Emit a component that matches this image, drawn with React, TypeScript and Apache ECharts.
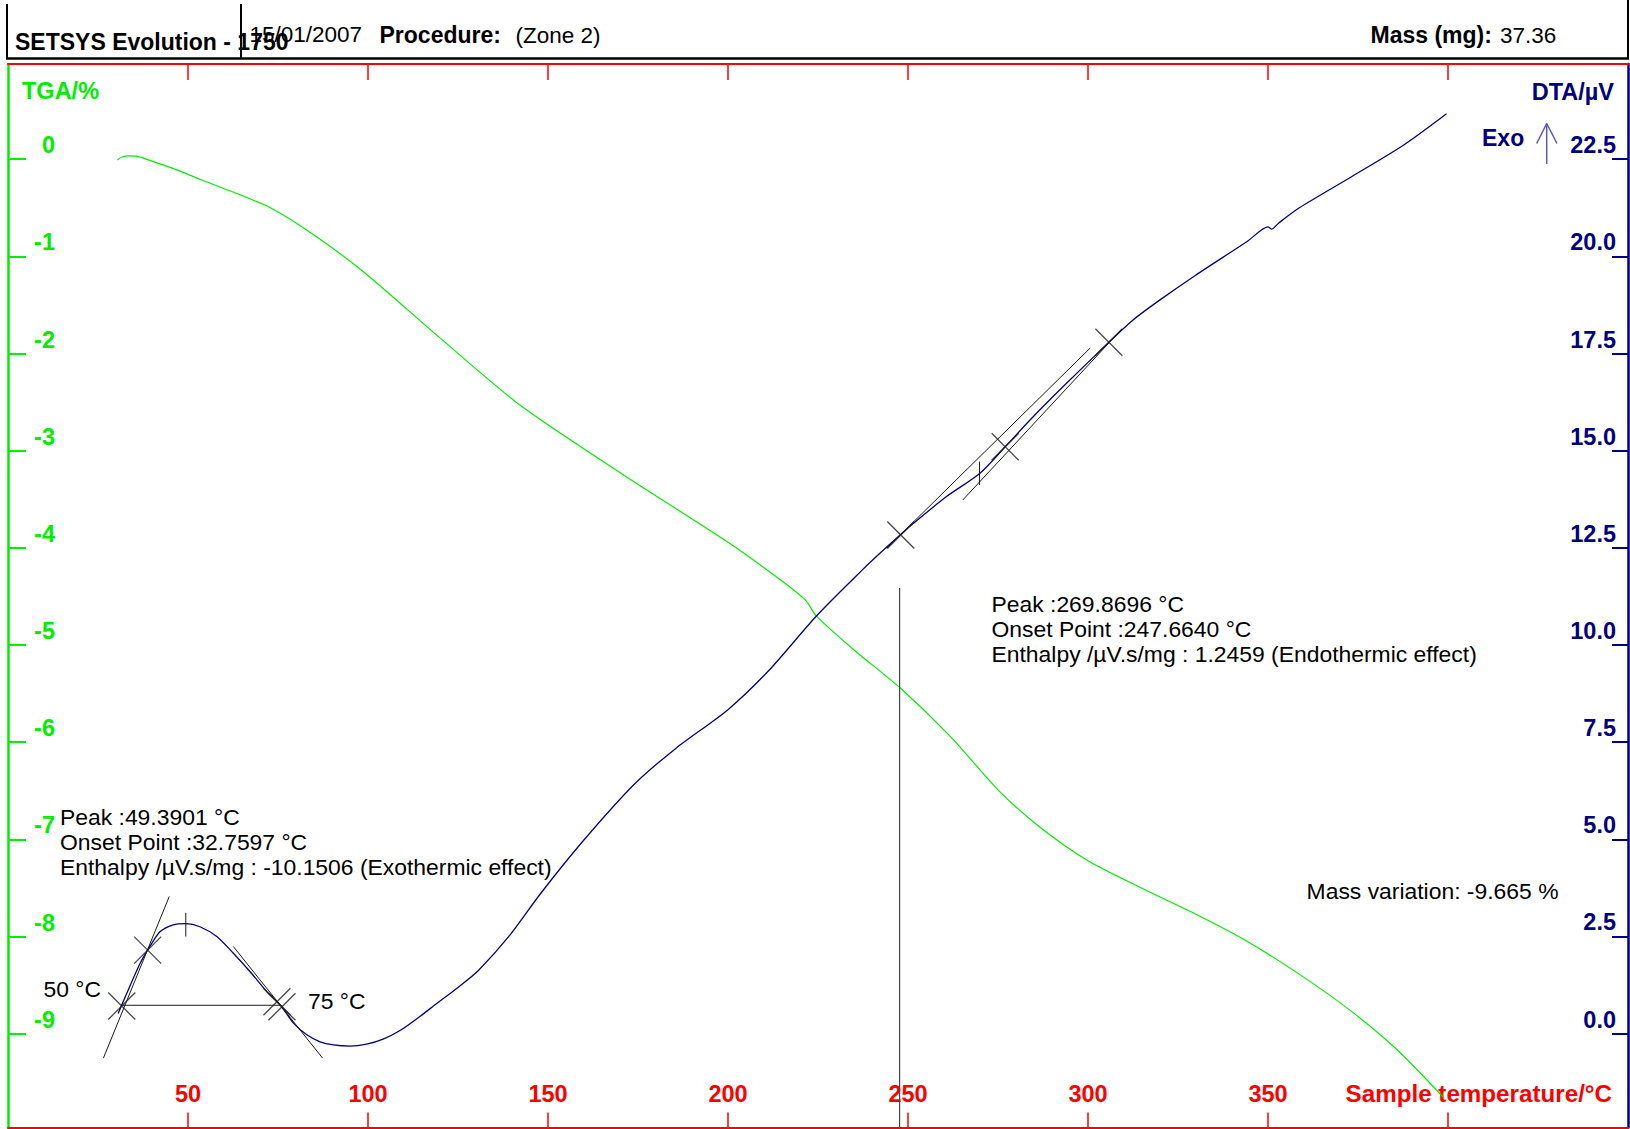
import React, { useEffect, useRef } from "react";
import * as echarts from "echarts";

const FONT = "'Liberation Sans', Arial, Helvetica, sans-serif";
const GREEN = "#00ee00";
const RED = "#ff0000";
const NAVY = "#000080";
const INK = "#1a1a1a";

// TGA: sample temperature (°C) and mass change (%)
const tgaTemp = [30.4, 31.5, 33.4, 36.0, 40.0, 46.9, 53.3, 62.0, 72.9, 85.0, 98.8, 119.1, 142.2, 171.0, 199.9, 215.0, 221.6, 224.5, 235.0, 247.8, 262.0, 275.0, 286.5, 300.0, 315.4, 330.0, 344.3, 360.0, 373.2, 386.0, 399.0];
const tgaMass = [-0.007, 0.02, 0.034, 0.03, -0.02, -0.11, -0.206, -0.33, -0.5, -0.78, -1.16, -1.81, -2.53, -3.25, -3.94, -4.34, -4.54, -4.7, -5.05, -5.44, -5.95, -6.49, -6.87, -7.22, -7.51, -7.77, -8.05, -8.42, -8.77, -9.17, -9.665];

// DTA: sample temperature (°C) and signal (µV)
const dtaTemp = [30.6, 33.0, 36.7, 38.8, 42.2, 45.9, 49.4, 53.3, 58.0, 62.6, 67.2, 71.9, 75.6, 79.3, 83.0, 86.7, 90.4, 95.0, 99.6, 104.2, 108.9, 114.4, 119.0, 125.0, 130.6, 139.3, 147.9, 159.5, 173.9, 185.5, 199.9, 211.4, 224.5, 237.4, 242.2, 247.8, 251.5, 260.7, 270.0, 277.0, 283.9, 293.1, 305.8, 312.6, 320.0, 329.8, 344.3, 350.0, 351.0, 353.0, 358.7, 373.2, 387.6, 399.6];
const dtaSignal = [0.52, 1.04, 1.81, 2.15, 2.62, 2.8, 2.83, 2.75, 2.5, 2.07, 1.6, 1.08, 0.74, 0.27, -0.03, -0.21, -0.29, -0.32, -0.27, -0.14, 0.08, 0.44, 0.77, 1.19, 1.62, 2.52, 3.6, 4.93, 6.41, 7.34, 8.33, 9.35, 10.74, 11.94, 12.36, 12.83, 13.13, 13.82, 14.42, 15.1, 15.79, 16.65, 17.79, 18.37, 18.88, 19.51, 20.39, 20.76, 20.7, 20.86, 21.25, 22.05, 22.86, 23.67];

// Axis ranges and ticks
const tempRange = [0, 450];
const tgaRange = [-9.965, 0.98];
const dtaRange = [-2.415, 24.95];
const tempTicks = [50, 100, 150, 200, 250, 300, 350, 400];
const tempLabels = [50, 100, 150, 200, 250, 300, 350];
const tgaTicks = [0, -1, -2, -3, -4, -5, -6, -7, -8, -9];
const dtaTicks = [0, 2.5, 5, 7.5, 10, 12.5, 15, 17.5, 20, 22.5];

// Peak analysis: construction segments in (°C, µV)
const exoTangentRise = [[26.5, -0.63], [44.8, 3.53]];
const exoTangentFall = [[62.6, 2.24], [87.4, -0.63]];
const exoBaseline = [[31.6, 0.73], [75.6, 0.73]];
const exoPeakMark = [[49.39, 3.11], [49.39, 2.5]];
const endoTangentA = [[244.1, 12.49], [300.6, 17.64]];
const endoTangentB = [[265.2, 13.73], [309.4, 18.13]];
const endoPeakMark = [[269.87, 14.72], [269.87, 14.12]];
const onsetMarker = [[247.664, 11.47], [247.664, dtaRange[0]]];
const analysisCrosses = [
  [31.6, 0.71], [38.8, 2.15], [74.7, 0.82], [76.1, 0.69],
  [248.0, 12.83], [277.0, 15.1], [305.8, 17.79],
];

const exoText = [
  "Peak :49.3901 °C",
  "Onset Point :32.7597 °C",
  "Enthalpy /µV.s/mg : -10.1506 (Exothermic effect)",
];
const endoText = [
  "Peak :269.8696 °C",
  "Onset Point :247.6640 °C",
  "Enthalpy /µV.s/mg : 1.2459 (Endothermic effect)",
];

const zip = (a: number[], b: number[]) => a.map((v, i) => [v, b[i]]);

function txt(text: string, x: number, y: number, font: string, fill: string, align = "left") {
  return {
    type: "text",
    x,
    y,
    silent: true,
    style: {
      text,
      fill,
      font,
      textAlign: align,
      align,
      textVerticalAlign: "middle",
      verticalAlign: "middle",
    },
  };
}

function seg(x1: number, y1: number, x2: number, y2: number, stroke: string, lineWidth: number) {
  return { type: "line", silent: true, shape: { x1, y1, x2, y2 }, style: { stroke, lineWidth } };
}

export default function App() {
  const ref = useRef<HTMLDivElement>(null);

  useEffect(() => {
    if (!ref.current) return;
    const chart = echarts.init(ref.current, undefined, { renderer: "svg" });

    const bold = (s: number) => `bold ${s}px ${FONT}`;
    const reg = (s: number) => `${s}px ${FONT}`;
    const NOTE = 22.9;

    const construction = [
      exoTangentRise, exoTangentFall, exoBaseline, exoPeakMark,
      endoTangentA, endoTangentB, endoPeakMark,
    ].map((d) => ({
      type: "line",
      yAxisIndex: 1,
      data: d,
      symbol: "none",
      silent: true,
      z: 4,
      lineStyle: { color: INK, width: 1 },
    }));

    const graphic: any[] = [
      // header frame
      seg(7, 4, 7, 59, "#000", 2),
      seg(241, 4, 241, 59, "#000", 2),
      seg(1628, 0, 1628, 59, "#000", 2),
      seg(6, 58.5, 1629, 58.5, "#000", 2.5),
      txt("SETSYS Evolution - 1750", 15, 41.7, bold(23), "#000"),
      txt("15/01/2007", 249.5, 34.5, reg(22.5), "#000"),
      txt("Procedure:", 379.5, 35, bold(23), "#000"),
      txt("(Zone 2)", 515.5, 35, reg(22.5), "#000"),
      txt("Mass (mg):", 1370.5, 35, bold(23), "#000"),
      txt("37.36", 1500, 35, reg(22.5), "#000"),
      // axis titles
      txt("TGA/%", 22, 90.5, bold(23.5), GREEN),
      txt("DTA/µV", 1614, 92, bold(23.5), NAVY, "right"),
      txt("Exo", 1482, 138, bold(23), NAVY),
      seg(1546.7, 123.5, 1546.7, 164, "#5a5ab4", 1.5),
      seg(1536.7, 143.5, 1546.7, 123.5, "#5a5ab4", 1.5),
      seg(1557, 143.5, 1546.7, 123.5, "#5a5ab4", 1.5),
      txt("Sample temperature/°C", 1612, 1093.5, bold(24.2), RED, "right"),
      // annotations
      ...exoText.map((t, i) => txt(t, 60, 817 + i * 25, reg(NOTE), "#000")),
      ...endoText.map((t, i) => txt(t, 991.5, 603.8 + i * 25, reg(NOTE), "#000")),
      txt("50 °C", 43.5, 989, reg(NOTE), "#000"),
      txt("75 °C", 308, 1001, reg(NOTE), "#000"),
      txt("Mass variation: -9.665 %", 1558.5, 891, reg(NOTE), "#000", "right"),
    ];

    chart.setOption({
      animation: false,
      backgroundColor: "#ffffff",
      grid: { left: 8, right: 2, top: 64, bottom: 1.5, containLabel: false },
      xAxis: [
        {
          type: "value",
          position: "bottom",
          min: tempRange[0],
          max: tempRange[1],
          axisLine: { show: true, onZero: false, lineStyle: { color: RED, width: 2 } },
          axisTick: { show: true, inside: true, length: 15, customValues: tempTicks, lineStyle: { color: RED, width: 1.5 } },
          axisLabel: {
            show: true,
            inside: true,
            margin: 34,
            customValues: tempLabels,
            color: RED,
            fontWeight: "bold",
            fontSize: 23.5,
            fontFamily: FONT,
            verticalAlign: "middle",
          },
          splitLine: { show: false },
        },
        {
          type: "value",
          position: "top",
          min: tempRange[0],
          max: tempRange[1],
          axisLine: { show: true, onZero: false, lineStyle: { color: RED, width: 2 } },
          axisTick: { show: true, inside: true, length: 16, customValues: tempTicks, lineStyle: { color: RED, width: 1.5 } },
          axisLabel: { show: false },
          splitLine: { show: false },
        },
      ],
      yAxis: [
        {
          type: "value",
          position: "left",
          min: tgaRange[0],
          max: tgaRange[1],
          axisLine: { show: true, onZero: false, lineStyle: { color: GREEN, width: 2.5 } },
          axisTick: { show: true, inside: true, length: 18, customValues: tgaTicks, lineStyle: { color: GREEN, width: 2 } },
          axisLabel: {
            show: true,
            inside: true,
            margin: 47,
            align: "right",
            verticalAlign: "bottom",
            lineHeight: 28,
            customValues: tgaTicks,
            color: GREEN,
            fontWeight: "bold",
            fontSize: 23.5,
            fontFamily: FONT,
          },
          splitLine: { show: false },
        },
        {
          type: "value",
          position: "right",
          min: dtaRange[0],
          max: dtaRange[1],
          axisLine: { show: true, onZero: false, lineStyle: { color: NAVY, width: 2.5 } },
          axisTick: { show: true, inside: true, length: 16, customValues: dtaTicks, lineStyle: { color: NAVY, width: 2 } },
          axisLabel: {
            show: true,
            inside: true,
            margin: 12,
            align: "right",
            verticalAlign: "bottom",
            lineHeight: 28,
            customValues: dtaTicks,
            formatter: (v: number) => v.toFixed(1),
            color: NAVY,
            fontWeight: "bold",
            fontSize: 23.5,
            fontFamily: FONT,
          },
          splitLine: { show: false },
        },
      ],
      series: [
        {
          name: "TGA",
          type: "line",
          yAxisIndex: 0,
          data: zip(tgaTemp, tgaMass),
          symbol: "none",
          smooth: 0.25,
          silent: true,
          z: 3,
          lineStyle: { color: GREEN, width: 1.2 },
        },
        {
          name: "DTA",
          type: "line",
          yAxisIndex: 1,
          data: zip(dtaTemp, dtaSignal),
          symbol: "none",
          smooth: 0.25,
          silent: true,
          z: 3,
          lineStyle: { color: NAVY, width: 1.3 },
        },
        ...construction,
        {
          type: "line",
          yAxisIndex: 1,
          data: onsetMarker,
          symbol: "none",
          silent: true,
          z: 4,
          lineStyle: { color: "#444", width: 1.2 },
        },
        {
          type: "scatter",
          yAxisIndex: 1,
          data: analysisCrosses,
          symbol: "path://M0,0L10,10M10,0L0,10",
          symbolSize: 27,
          silent: true,
          z: 5,
          itemStyle: { color: "transparent", borderColor: INK, borderWidth: 1.3 },
        },
      ],
      graphic,
    });

    return () => chart.dispose();
  }, []);

  return (
    <div
      ref={ref}
      style={{ position: "fixed", left: 0, top: 0, width: 1630, height: 1129, background: "#fff" }}
    />
  );
}
